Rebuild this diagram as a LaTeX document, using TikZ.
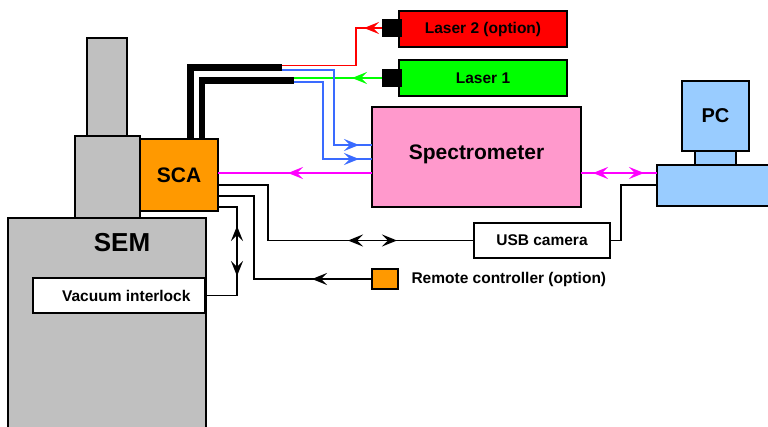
\documentclass[tikz,border=0pt]{standalone}
\usepackage{fontspec}
\setmainfont{Liberation Sans}
\usetikzlibrary{arrows.meta,calc}
\definecolor{semgrey}{HTML}{C0C0C0}
\definecolor{scaorange}{HTML}{FF9900}
\definecolor{specpink}{HTML}{FF99CC}
\definecolor{pcblue}{HTML}{99CCFF}
\definecolor{laserred}{HTML}{FF0000}
\definecolor{lasergreen}{HTML}{00FF00}
\definecolor{fiberblue}{HTML}{3A6BFF}
\definecolor{sigmagenta}{HTML}{FF00FF}
\tikzset{
  box/.style={draw=black, line width=1.6pt, inner sep=0pt, rectangle},
  smalltext/.style={font=\fontsize{15.5}{18}\selectfont\bfseries},
  bigtext/.style={font=\fontsize{21}{24}\selectfont\bfseries},
  wire/.style={line width=1.7pt},
  tipshape/.tip={Stealth[length=15pt,width=12pt,inset=6pt]},
  head/.style={line width=1.7pt, -{tipshape}},
  fiber/.style={line width=6.5pt, line join=miter, line cap=butt},
}
\begin{document}
\begin{tikzpicture}[x=1pt,y=-1pt]
\useasboundingbox (0,0) rectangle (768,426);
\clip (0,0) rectangle (768,426);
% SEM
\node[box, fill=semgrey, minimum width=198pt, minimum height=226pt] (sem) at (107,331) {};
\node[box, fill=semgrey, minimum width=65pt, minimum height=82pt] (col) at (107.5,177) {};
\node[box, fill=semgrey, minimum width=40pt, minimum height=98pt] (gun) at (107,87) {};
\node[font=\fontsize{26}{30}\selectfont\bfseries] (semlabel) at (122,243) {SEM};
\node[box, fill=white, minimum width=172pt, minimum height=35pt] (vac) at (119,295.5) {};
\node[smalltext, anchor=east] (vactext) at (194,296) {Vacuum interlock};
% SCA
\node[box, fill=scaorange, minimum width=78pt, minimum height=72pt, bigtext] (sca) at (179,175) {SCA};
% fibers
\coordinate (f1) at (282,67.5);
\coordinate (f2) at (294,80.5);
\coordinate (f1s) at (190.5,139);
\coordinate (f2s) at (202,139);
\draw[fiber] (f1s) -- (190.5,67.5) -- (f1);
\draw[fiber] (f2s) -- (202,80.5) -- (f2);
\coordinate (f1r) at (282,65.5);
\coordinate (f1b) at (282,70);
\coordinate (f2g) at (294,78);
\coordinate (f2b) at (294,82);
% lasers
\node[box, fill=laserred, minimum width=168pt, minimum height=36pt, smalltext] (laser2) at (483,29) {Laser 2 (option)};
\node[box, fill=black, minimum width=18pt, minimum height=16pt] (l2c) at (392,28) {};
\node[box, fill=lasergreen, minimum width=168pt, minimum height=36pt, smalltext] (laser1) at (483,78) {Laser 1};
\node[box, fill=black, minimum width=18pt, minimum height=16pt] (l1c) at (392,78) {};
% spectrometer
\node[box, fill=specpink, minimum width=209pt, minimum height=100pt] (spec) at (476.5,157) {};
\node[bigtext] (spectext) at (476.5,154) {Spectrometer};
% PC
\node[box, fill=pcblue, minimum width=120pt, minimum height=41pt] (pcbase) at (717,185.5) {};
\node[box, fill=pcblue, minimum width=41pt, minimum height=14pt] (pcneck) at (715.5,158) {};
\node[box, fill=pcblue, minimum width=67pt, minimum height=70pt, font=\fontsize{20}{24}\selectfont\bfseries] (pc) at (715.5,116) {PC};
% USB camera and remote
\node[box, fill=white, minimum width=136pt, minimum height=35pt, smalltext] (usb) at (542,240.5) {USB camera};
\node[box, fill=scaorange, minimum width=26pt, minimum height=20pt] (remote) at (385,279) {};
\node[smalltext, anchor=west] (remotetext) at (408,279) {Remote controller (option)};
% coloured optical lines
\draw[wire, laserred] (l2c.west) -- (356,28) |- (f1r);
\draw[head, laserred] (382,28) -- (364,28);
\draw[wire, lasergreen] (l1c.west) -- (f2g);
\draw[head, lasergreen] (370,78) -- (352,78);
\coordinate (sb1) at (372,145);
\coordinate (sb2) at (372,159);
\draw[wire, fiberblue] (f1b) -- (334,70) |- (sb1);
\draw[head, fiberblue] (340,145) -- (359,145);
\draw[wire, fiberblue] (f2b) -- (323,82) |- (sb2);
\draw[head, fiberblue] (340,159) -- (359,159);
\coordinate (sm1) at (372,173);
\coordinate (sm2) at (581,173);
\coordinate (scam) at (218,173);
\coordinate (pcm) at (657,173);
\draw[wire, sigmagenta] (sm1) -- (scam);
\draw[head, sigmagenta] (306,173) -- (288,173);
\draw[wire, sigmagenta] (sm2) -- (pcm);
\draw[head, sigmagenta] (611,173) -- (593,173);
\draw[head, sigmagenta] (625,173) -- (644,173);
% control wires
\coordinate (scau) at (218,185);
\coordinate (scar) at (218,196);
\coordinate (scav) at (218,207);
\draw[wire] (scau) -- (268,185) |- (usb.west);
\draw[head] (366,240.5) -- (348,240.5);
\draw[head] (379,240.5) -- (397,240.5);
\draw[wire] (remote.west) -- (254,279) |- (scar);
\draw[head] (330,279) -- (312,279);
\draw[wire] (scav) -- (237,207) |- (vac.east);
\draw[head] (237,244) -- (237,226);
\draw[head] (237,258) -- (237,276);
\coordinate (pcu) at (657,185);
\draw[wire] (usb.east) -- (621,240.5) |- (pcu);
\end{tikzpicture}
\end{document}
